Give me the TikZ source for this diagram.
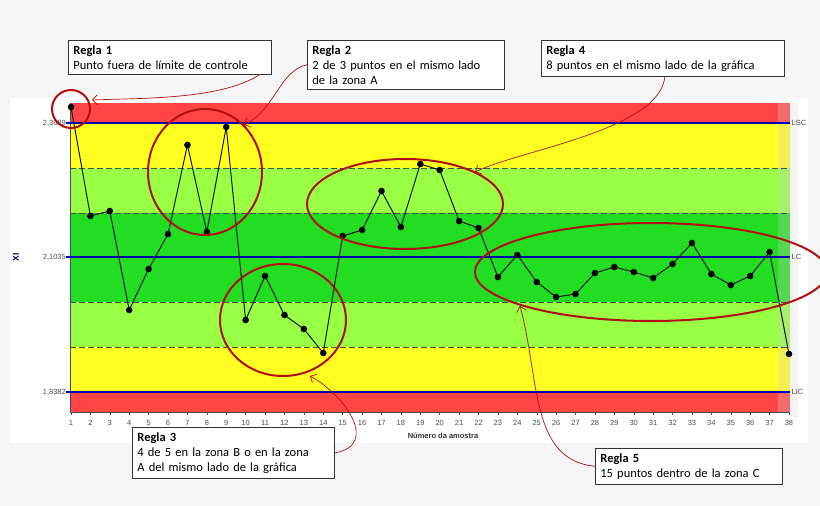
\documentclass[tikz,border=0pt]{standalone}
\usepackage{fontspec}
\setmainfont{Carlito}
\newfontfamily\axf{Liberation Sans}
\usetikzlibrary{arrows.meta}
\definecolor{zred}{HTML}{FF4444}
\definecolor{zyel}{HTML}{FFFF22}
\definecolor{zlg}{HTML}{99FF44}
\definecolor{zg}{HTML}{22DD22}
\definecolor{dred}{HTML}{B01010}
\tikzset{
 rulebox/.style={draw=black!80,fill=white,thick,align=left,anchor=north west,inner sep=5pt,font=\fontsize{12.5}{15}\selectfont,text width=#1},
 ring/.style={draw=dred,line width=2pt},
 callout/.style={draw=dred,-{Straight Barb[length=5pt]},line width=0.7pt},
 lim/.style={draw=blue!70!black,line width=1.3pt},
 zdash/.style={draw=black!70,dash pattern=on 6pt off 3pt,line width=0.6pt},
 ticklbl/.style={font=\axf\fontsize{7.5}{8}\selectfont,text=black!70}
}
\begin{document}
\begin{tikzpicture}[x=1pt,y=-1pt]
\useasboundingbox (0,0) rectangle (820,506);
\fill[black!4] (0,0) rectangle (820,506);
\fill[white] (10,98) rectangle (808,443);
% zones
\fill[zred] (70,103) rectangle (790,123);
\fill[zyel] (70,123) rectangle (790,168);
\fill[zlg] (70,168) rectangle (790,213);
\fill[zg] (70,213) rectangle (790,302);
\fill[zlg] (70,302) rectangle (790,347);
\fill[zyel] (70,347) rectangle (790,392);
\fill[zred] (70,392) rectangle (790,412);
\fill[black!20,opacity=0.3] (778,103) rectangle (790,412);
\fill[black!8,opacity=0.6] (790,103) rectangle (798,418);
\draw[black!70] (70,103) -- (70,412) -- (790,412);
\draw[zdash] (70,168) -- (790,168);
\draw[zdash] (70,213) -- (790,213);
\draw[zdash] (70,302) -- (790,302);
\draw[zdash] (70,347) -- (790,347);
\draw[lim] (66,123) -- (790,123) node[right,ticklbl,inner sep=1pt] {LSC};
\draw[lim] (66,257) -- (790,257) node[right,ticklbl,inner sep=1pt] {LC};
\draw[lim] (66,392) -- (790,392) node[right,ticklbl,inner sep=1pt] {LIC};
\node[ticklbl,left,inner sep=2pt] at (68,123) {2,3689};
\node[ticklbl,left,inner sep=2pt] at (68,257) {2,1035};
\node[ticklbl,left,inner sep=2pt] at (68,392) {1,8382};
\node[font=\axf\bfseries\fontsize{8.5}{9}\selectfont,text=blue!50!black,rotate=90] at (16,257) {XI};
\node[font=\axf\bfseries\fontsize{7.5}{8}\selectfont,text=black!80] at (443,436) {Número da amostra};
\foreach \i in {1,...,38}{
 \draw[black!70] ({71+(\i-1)*19.405},412) -- ++(0,3);
 \node[ticklbl] at ({71+(\i-1)*19.405},423) {\i};
}
% data
\def\pts{107,216,211,310,269,234,145,232,127,320,276,315,329,353,236,230,191,227,164,170,221,228,277,255,282,297,294,273,267,272,278,264,243,274,285,276,252,354}
\foreach \v [count=\i] in \pts { \coordinate (p\i) at ({71+(\i-1)*19.405},\v); }
\draw[black,line width=0.9pt] (p1) \foreach \i in {2,...,38}{ -- (p\i)};
\foreach \i in {1,...,38} \fill (p\i) circle (3.3pt);
% rings
\draw[ring] (71,109) circle (19);
\draw[ring] (205,172) ellipse (57 and 63);
\draw[ring] (283,320) ellipse (63 and 56);
\draw[ring] (405,204) ellipse (98 and 45);
\draw[ring] (651,272) ellipse (176 and 49);
% boxes
\node[rulebox=193pt] (r1) at (68,40) {\textbf{Regla 1}\\Punto fuera de límite de controle};
\node[rulebox=187pt] (r2) at (307,40) {\textbf{Regla 2}\\2 de 3 puntos en el mismo lado\\de la zona A};
\node[rulebox=233pt] (r4) at (541,40) {\textbf{Regla 4}\\8 puntos en el mismo lado de la gráfica};
\node[rulebox=192pt] (r3) at (132,427) {\textbf{Regla 3}\\4 de 5 en la zona B o en la zona\\A del mismo lado de la gráfica};
\node[rulebox=177pt] (r5) at (595,448) {\textbf{Regla 5}\\15 puntos dentro de la zona C};
\coordinate (a1) at (92,100);
\coordinate (a2) at (244,125);
\coordinate (a4) at (475,172);
\coordinate (a3) at (310,376);
\coordinate (a5) at (520,306);
\draw[callout] ([xshift=-12pt]r1.south east) .. controls (220,100) and (140,98) .. (a1);
\draw[callout] (r2.west) .. controls (280,70) and (275,110) .. (a2);
\draw[callout] ([xshift=-120pt]r4.south east) .. controls (660,130) and (520,150) .. (a4);
\draw[callout] (r3.east) .. controls (380,445) and (345,395) .. (a3);
\draw[callout] (r5.west) .. controls (530,460) and (540,380) .. (a5);
\end{tikzpicture}
\end{document}
